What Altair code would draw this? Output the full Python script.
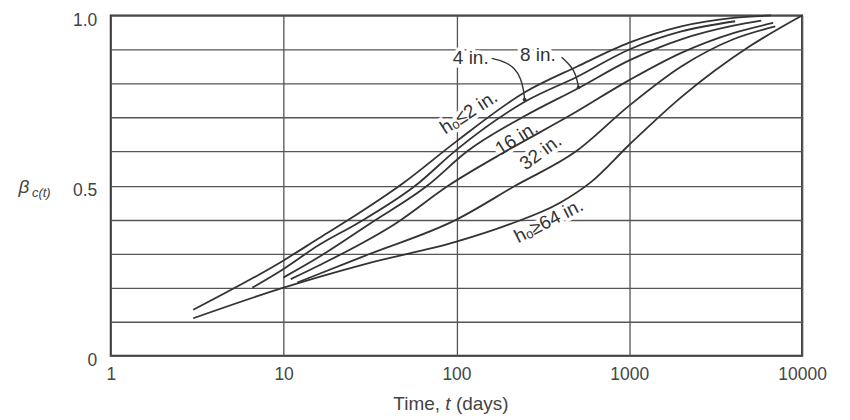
import altair as alt
import pandas as pd

# ---- data ----
SERIES = ["2 in", "4 in", "8 in", "16 in", "32 in", "64 in"]
T_2 = [3, 10, 16, 23, 50, 100, 250, 500, 1000, 2000, 4000, 6600]
B_2 = [0.135, 0.28, 0.345, 0.395, 0.51, 0.63, 0.775, 0.85, 0.92, 0.968, 0.993, 1.0]
T_4 = [6.6, 10, 16, 27, 58, 100, 250, 500, 1000, 2000, 4100]
B_4 = [0.2, 0.255, 0.325, 0.39, 0.5, 0.605, 0.747, 0.82, 0.9, 0.953, 0.983]
T_8 = [10, 16, 32, 68, 115, 250, 510, 1000, 2000, 4000, 5800]
B_8 = [0.23, 0.29, 0.39, 0.5, 0.6, 0.705, 0.787, 0.868, 0.93, 0.97, 0.985]
T_16 = [11, 16, 45, 90, 200, 450, 1000, 2000, 4000, 6800]
B_16 = [0.225, 0.265, 0.39, 0.5, 0.605, 0.705, 0.81, 0.89, 0.948, 0.978]
T_32 = [12, 16, 30, 100, 220, 490, 1000, 2000, 4000, 7000]
B_32 = [0.215, 0.24, 0.295, 0.40, 0.5, 0.6, 0.735, 0.85, 0.93, 0.968]
T_64 = [3, 10, 30, 100, 200, 400, 600, 1000, 2000, 5000, 10000]
B_64 = [0.11, 0.2, 0.27, 0.335, 0.385, 0.45, 0.51, 0.62, 0.76, 0.91, 1.0]

LABELS = ["hₒ≤2 in.", "4 in.", "8 in.", "16 in.", "32 in.", "hₒ≥64 in."]
LABEL_T = [118, 121, 296, 223, 307, 342]
LABEL_B = [0.715, 0.874, 0.885, 0.639, 0.598, 0.396]
LABEL_ANGLE = [327, 0, 0, 328, 324, 333]

ARROW_4_T = [160, 190, 218, 236, 245, 248]
ARROW_4_B = [0.874, 0.865, 0.845, 0.815, 0.78, 0.753]
ARROW_8_T = [406, 452, 490, 509]
ARROW_8_B = [0.877, 0.856, 0.83, 0.789]

X_TICKS = [1, 10, 100, 1000, 10000]
Y_GRID = [0, 0.1, 0.2, 0.3, 0.4, 0.5, 0.6, 0.7, 0.8, 0.9, 1.0]

# ---- tables ----
rows = []
for name, ts, bs in zip(SERIES, [T_2, T_4, T_8, T_16, T_32, T_64],
                        [B_2, B_4, B_8, B_16, B_32, B_64]):
    for t, b in zip(ts, bs):
        rows.append({"series": name, "t": t, "beta": b})
curves = pd.DataFrame(rows)

labels = pd.DataFrame({"label": LABELS, "t": LABEL_T, "beta": LABEL_B, "ang": LABEL_ANGLE})

arows = []
for name, ts, bs in [("a4", ARROW_4_T, ARROW_4_B), ("a8", ARROW_8_T, ARROW_8_B)]:
    for i, (t, b) in enumerate(zip(ts, bs)):
        arows.append({"arrow": name, "t": t, "beta": b, "i": i})
arrows = pd.DataFrame(arows)
arrow_ends = arrows.groupby("arrow").tail(1)

FONT = "Liberation Sans"
INK = "#333333"

x_enc = alt.X("t:Q",
              scale=alt.Scale(type="log", domain=[1, 10000]),
              axis=alt.Axis(values=X_TICKS, format="d", ticks=False, domain=False,
                            grid=True, gridColor="#555555", gridWidth=1.3,
                            labelFont=FONT, labelFontSize=17.5, labelColor="#444444",
                            labelPadding=10, labelFlush=False, title=None))
y_enc = alt.Y("beta:Q",
              scale=alt.Scale(domain=[0, 1], nice=False, zero=True),
              axis=alt.Axis(values=Y_GRID, ticks=False, domain=False,
                            grid=True, gridColor="#555555", gridWidth=1.3,
                            labelExpr="datum.value == 0 ? '0' : (abs(datum.value - 0.5) < 0.001 ? '0.5' : (datum.value == 1 ? '1.0' : ''))",
                            labelFont=FONT, labelFontSize=17.5, labelColor="#444444",
                            labelPadding=14, labelOffset=5, labelFlush=False, title=None))

halo = alt.Chart(labels).mark_text(
    font=FONT, fontSize=19, color="white", stroke="white", strokeWidth=7,
    align="center", baseline="middle"
).encode(x=x_enc, y=y_enc, text="label:N", angle=alt.Angle("ang:Q", scale=None))

lines = alt.Chart(curves).mark_line(
    color=INK, strokeWidth=1.8, interpolate="monotone"
).encode(x=x_enc, y=y_enc, detail="series:N", order="t:Q")

arrow_lines = alt.Chart(arrows).mark_line(
    color=INK, strokeWidth=1.4, interpolate="basis"
).encode(x=x_enc, y=y_enc, detail="arrow:N", order="i:Q")

arrow_heads = alt.Chart(arrow_ends).mark_point(
    color=INK, filled=True, size=14, opacity=1
).encode(x=x_enc, y=y_enc)

text = alt.Chart(labels).mark_text(
    font=FONT, fontSize=19, color="#333333", align="center", baseline="middle"
).encode(x=x_enc, y=y_enc, text="label:N", angle=alt.Angle("ang:Q", scale=None))

# axis titles as text pieces (mixed italics)
title_df = pd.DataFrame({"k": [0]})
def tpiece(txt, x, y, size, align, italic=False):
    return alt.Chart(title_df).mark_text(
        text=txt, font=FONT, fontSize=size, color="#444444", align=align,
        baseline="middle", fontStyle="italic" if italic else "normal"
    ).encode(x=alt.value(x), y=alt.value(y))

titles = [
    tpiece("Time,", 330, 389, 19, "right"),
    tpiece("t", 338, 389, 19, "center", True),
    tpiece("(days)", 346, 389, 19, "left"),
    tpiece("β", -87, 172, 19, "center", True),
    tpiece("c(t)", -79, 178, 13, "left", True),
]

chart = alt.layer(halo, lines, arrow_lines, arrow_heads, text, *titles).properties(
    width=693, height=341,
    autosize=alt.AutoSizeParams(type="none"),
    padding={"left": 103, "top": 7, "right": 40, "bottom": 62},
    background="white",
).configure_view(stroke="#333333", strokeWidth=2)

chart.save("out.html", embed_options={"renderer": "svg", "actions": False})
